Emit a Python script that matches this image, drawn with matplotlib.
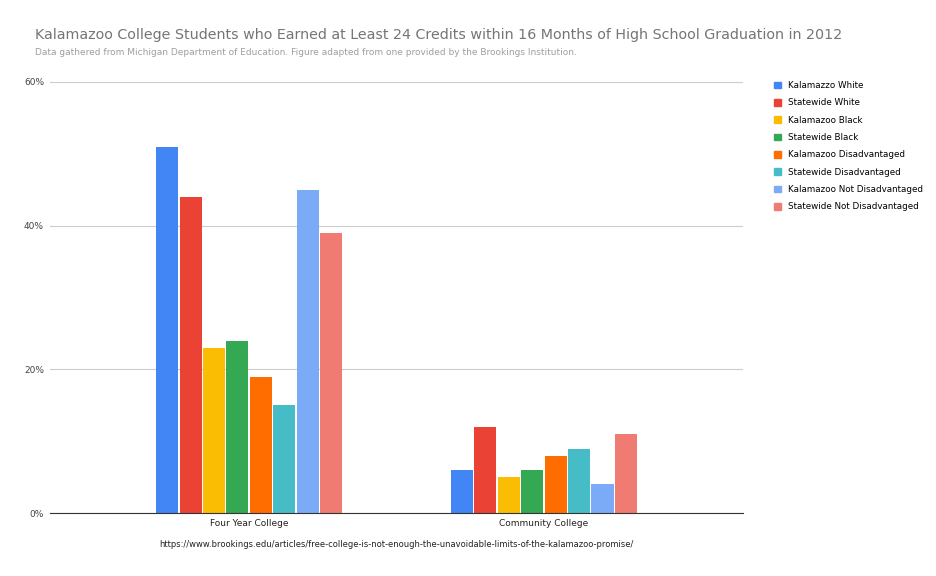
import matplotlib.pyplot as plt
import numpy as np
from matplotlib.patches import Patch

categories = ["Four Year College", "Community College"]
series = ["Kalamazzo White", "Statewide White", "Kalamazoo Black", "Statewide Black",
          "Kalamazoo Disadvantaged", "Statewide Disadvantaged",
          "Kalamazoo Not Disadvantaged", "Statewide Not Disadvantaged"]
four_year = [51, 44, 23, 24, 19, 15, 45, 39]
community = [6, 12, 5, 6, 8, 9, 4, 11]
colors = ["#4285F4", "#EA4335", "#FBBC04", "#34A853", "#FF6D01", "#46BDC6", "#7BAAF7", "#F07B72"]

fig = plt.figure(figsize=(9.36, 5.76), dpi=100)
ax = fig.add_axes([0.053, 0.109, 0.741, 0.749])

x = np.arange(len(categories))
slot = 0.0795
width = 0.0747
for i, name in enumerate(series):
    vals = [four_year[i], community[i]]
    ax.bar(x + (i - 3.5) * slot, vals, width, color=colors[i], label=name)

ax.set_xlim(-0.677, 1.676)
ax.set_ylim(0, 60)
ax.set_yticks([0, 20, 40, 60])
ax.set_yticklabels(["0%", "20%", "40%", "60%"], fontsize=6.5, color="#444444")
ax.set_xticks(x)
ax.set_xticklabels(categories, fontsize=6.5, color="#222222")
ax.tick_params(length=0, pad=4)
ax.yaxis.grid(True, color="#cccccc", linewidth=0.8)
ax.set_axisbelow(True)
for s in ["top", "right", "left"]:
    ax.spines[s].set_visible(False)
ax.spines["bottom"].set_color("#333333")

handles = [Patch(color=c, label=n) for c, n in zip(colors, series)]
fig.legend(handles=handles, loc="upper left", bbox_to_anchor=(0.818, 0.873),
           frameon=False, fontsize=6.3, handlelength=0.8, handleheight=0.8,
           labelspacing=0.95, handletextpad=0.8)

fig.text(0.037, 0.94, "Kalamazoo College Students who Earned at Least 24 Credits within 16 Months of High School Graduation in 2012",
         fontsize=10.3, color="#757575", va="center")
fig.text(0.037, 0.908, "Data gathered from Michigan Department of Education. Figure adapted from one provided by the Brookings Institution.",
         fontsize=6.5, color="#9e9e9e", va="center")
fig.text(0.424, 0.055, "https://www.brookings.edu/articles/free-college-is-not-enough-the-unavoidable-limits-of-the-kalamazoo-promise/",
         fontsize=6, color="#222222", ha="center", va="center")

fig.savefig("out.png", dpi=100)
